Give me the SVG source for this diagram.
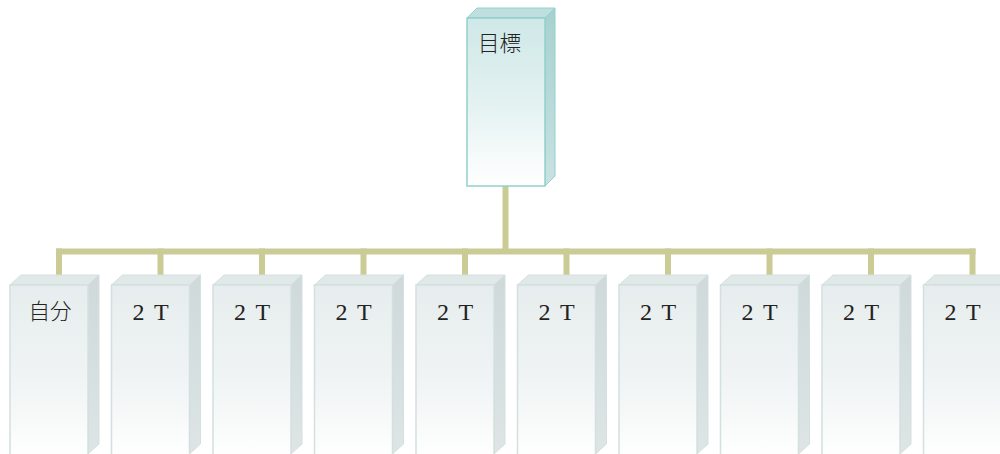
<svg xmlns="http://www.w3.org/2000/svg" width="1000" height="454" viewBox="0 0 1000 454">
<defs>
<linearGradient id="gTop" x1="0" y1="0" x2="0" y2="1">
<stop offset="0" stop-color="#CFE8E8"/><stop offset="0.45" stop-color="#E1F0F0"/><stop offset="1" stop-color="#FFFFFF"/>
</linearGradient>
<linearGradient id="gTopSide" x1="0" y1="0" x2="0" y2="1">
<stop offset="0" stop-color="#A6D1D0"/><stop offset="1" stop-color="#C8E2E1"/>
</linearGradient>
<linearGradient id="gBot" x1="0" y1="0" x2="0" y2="1">
<stop offset="0" stop-color="#E7EDEE"/><stop offset="0.5" stop-color="#EFF3F3"/><stop offset="1" stop-color="#FFFFFF"/>
</linearGradient>
<linearGradient id="gBotSide" x1="0" y1="0" x2="0" y2="1">
<stop offset="0" stop-color="#CFD9D9"/><stop offset="1" stop-color="#DDE5E5"/>
</linearGradient>
</defs>
<style>
.conn{stroke:#CBCB96;stroke-width:6;fill:none}
.tf{fill:url(#gTop);stroke:#93D0CC;stroke-width:1.5}
.tt{fill:#BEDFDE;stroke:#93D0CC;stroke-width:1}
.ts{fill:url(#gTopSide);stroke:#93D0CC;stroke-width:1}
.bf{fill:url(#gBot);stroke:#D3E0DF;stroke-width:1.5}
.bt{fill:#E1E8E8;stroke:#D3E0DF;stroke-width:1}
.bs{fill:url(#gBotSide);stroke:#D3E0DF;stroke-width:1}
.cjk{font-family:"Noto Sans CJK JP","Noto Sans CJK SC",sans-serif;font-size:21.5px;font-weight:300;fill:#222}
.lat{font-family:"Liberation Serif",serif;font-size:24px;fill:#222;word-spacing:4px}
</style>
<g id="connectors">
<path class="conn" d="M505.5 186 V251.5"/>
<path class="conn" d="M56 251.5 H975.5"/>
<path class="conn" d="M59 248.5 V276 M160.5 248.5 V276 M262 248.5 V276 M363.5 248.5 V276 M465 248.5 V276 M566.5 248.5 V276 M668 248.5 V276 M769.5 248.5 V276 M871 248.5 V276 M972.5 248.5 V276"/>
</g>
<g id="node-goal">
<path class="tt" d="M467 18 L477 8 L555 8 L545 18 Z"/>
<path class="ts" d="M545 18 L555 8 L555 176 L545 186 Z"/>
<rect class="tf" x="467" y="18" width="78" height="168"/>
<text class="cjk" x="478" y="51">目標</text>
</g>
<g id="node-1">
<path class="bt" d="M10 285 L21 275 L99 275 L88 285 Z"/>
<path class="bs" d="M88 285 L99 275 L99 444 L88 454 Z"/>
<rect class="bf" x="10" y="285" width="78" height="175"/>
<text class="cjk" x="28.5" y="318.5">自分</text>
</g>
<g id="node-2">
<path class="bt" d="M111.5 285 L122.5 275 L200.5 275 L189.5 285 Z"/>
<path class="bs" d="M189.5 285 L200.5 275 L200.5 444 L189.5 454 Z"/>
<rect class="bf" x="111.5" y="285" width="78" height="175"/>
<text class="lat" x="132.5" y="319.5">2 T</text>
</g>
<g id="node-3">
<path class="bt" d="M213 285 L224 275 L302 275 L291 285 Z"/>
<path class="bs" d="M291 285 L302 275 L302 444 L291 454 Z"/>
<rect class="bf" x="213" y="285" width="78" height="175"/>
<text class="lat" x="234" y="319.5">2 T</text>
</g>
<g id="node-4">
<path class="bt" d="M314.5 285 L325.5 275 L403.5 275 L392.5 285 Z"/>
<path class="bs" d="M392.5 285 L403.5 275 L403.5 444 L392.5 454 Z"/>
<rect class="bf" x="314.5" y="285" width="78" height="175"/>
<text class="lat" x="335.5" y="319.5">2 T</text>
</g>
<g id="node-5">
<path class="bt" d="M416 285 L427 275 L505 275 L494 285 Z"/>
<path class="bs" d="M494 285 L505 275 L505 444 L494 454 Z"/>
<rect class="bf" x="416" y="285" width="78" height="175"/>
<text class="lat" x="437" y="319.5">2 T</text>
</g>
<g id="node-6">
<path class="bt" d="M517.5 285 L528.5 275 L606.5 275 L595.5 285 Z"/>
<path class="bs" d="M595.5 285 L606.5 275 L606.5 444 L595.5 454 Z"/>
<rect class="bf" x="517.5" y="285" width="78" height="175"/>
<text class="lat" x="538.5" y="319.5">2 T</text>
</g>
<g id="node-7">
<path class="bt" d="M619 285 L630 275 L708 275 L697 285 Z"/>
<path class="bs" d="M697 285 L708 275 L708 444 L697 454 Z"/>
<rect class="bf" x="619" y="285" width="78" height="175"/>
<text class="lat" x="640" y="319.5">2 T</text>
</g>
<g id="node-8">
<path class="bt" d="M720.5 285 L731.5 275 L809.5 275 L798.5 285 Z"/>
<path class="bs" d="M798.5 285 L809.5 275 L809.5 444 L798.5 454 Z"/>
<rect class="bf" x="720.5" y="285" width="78" height="175"/>
<text class="lat" x="741.5" y="319.5">2 T</text>
</g>
<g id="node-9">
<path class="bt" d="M822 285 L833 275 L911 275 L900 285 Z"/>
<path class="bs" d="M900 285 L911 275 L911 444 L900 454 Z"/>
<rect class="bf" x="822" y="285" width="78" height="175"/>
<text class="lat" x="843" y="319.5">2 T</text>
</g>
<g id="node-10">
<path class="bt" d="M923.5 285 L934.5 275 L1012.5 275 L1001.5 285 Z"/>
<path class="bs" d="M1001.5 285 L1012.5 275 L1012.5 444 L1001.5 454 Z"/>
<rect class="bf" x="923.5" y="285" width="78" height="175"/>
<text class="lat" x="944.5" y="319.5">2 T</text>
</g>
</svg>
